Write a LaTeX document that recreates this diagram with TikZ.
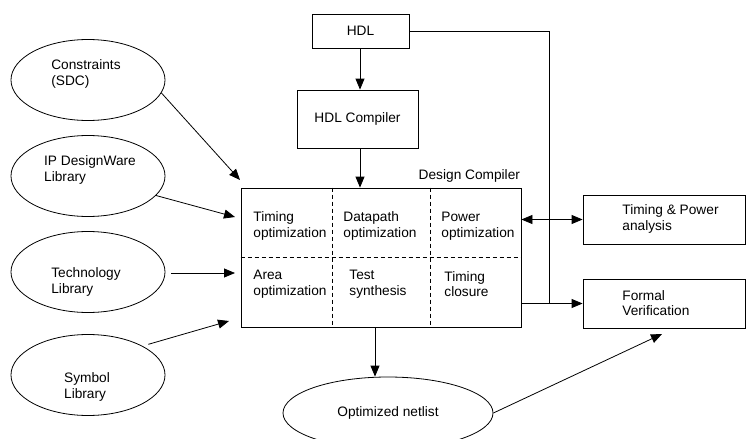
\documentclass[tikz,border=0pt]{standalone}
\usepackage{fontspec}
\setmainfont{Liberation Sans}
\usetikzlibrary{positioning,shapes.geometric,arrows.meta,calc}

\begin{document}
\begin{tikzpicture}[x=1pt, y=-1pt, >={Triangle[length=11pt,width=9pt]}, line width=0.8pt,
    font=\fontsize{13.7}{15.5}\selectfont,
    src/.style={draw, ellipse, minimum width=154pt, minimum height=81pt, inner sep=0pt},
    blk/.style={draw, rectangle, align=left, inner sep=0pt},
    txt/.style={align=left, inner sep=0pt},
    cell/.style={anchor=west, align=left, inner sep=0pt},
    sep/.style={dash pattern=on 4pt off 3pt}]
  \useasboundingbox (0,0) rectangle (753,439);
  %%
  % Node: input libraries
  \node[src] (sdc)  at (88,80)  {};
  \node[src] (ipdw) at (88,176) {};
  \node[src] (tech) at (88,272) {};
  \node[src] (sym)  at (88,375) {};
  \node[txt] (sdctxt)  at ($(sdc)+(-2,-6)$)  {Constraints\\(SDC)};
  \node[txt] (ipdwtxt) at ($(ipdw)+(2,-6)$)  {IP DesignWare\\Library};
  \node[txt] (techtxt) at ($(tech)+(-2,10)$) {Technology\\Library};
  \node[txt] (symtxt)  at ($(sym)+(-1,12)$)  {Symbol\\Library};
  %
  % Node: hdl, hdl compiler
  \node[blk, minimum width=97pt, minimum height=34pt] (hdl) at (360.5,31) {HDL};
  \node[blk, minimum width=121pt, minimum height=58pt] (hdlc) at (357.5,119) {HDL Compiler};
  %
  % Node: design compiler
  \node[blk, minimum width=280pt, minimum height=139pt] (dc) at (381,257.5) {};
  \node[anchor=south east, inner sep=0pt] (dclabel) at ($(dc.north east)+(-1,-5)$) {Design Compiler};
  \coordinate (d1) at (332,0);
  \coordinate (d2) at (430,0);
  \draw[sep] (d1 |- dc.north) -- (d1 |- dc.south);
  \draw[sep] (d2 |- dc.north) -- (d2 |- dc.south);
  \draw[sep] (dc.west) -- (dc.east);
  \node[cell] (timopt)  at (253,226) {Timing\\optimization};
  \node[cell] (dpopt)   at (343,226) {Datapath\\optimization};
  \node[cell] (pwropt)  at (441,226) {Power\\optimization};
  \node[cell] (areaopt) at (253,284) {Area\\optimization};
  \node[cell] (testsyn) at (349,284) {Test\\synthesis};
  \node[cell] (timcls)  at (444,284) {Timing\\closure};
  %
  % Node: analysis, verification
  \node[blk, minimum width=162pt, minimum height=49pt] (tpa) at (664,219.5) {};
  \node[blk, minimum width=162pt, minimum height=49pt] (fv) at (664,303.5) {};
  \node[cell] (tpatxt) at (622,219) {Timing \& Power\\analysis};
  \node[cell] (fvtxt)  at (622,303) {Formal\\Verification};
  %
  % Node: netlist
  \node[draw, ellipse, minimum width=210pt, minimum height=72pt] (nl) at (388,413) {Optimized netlist};
  %
  % Edges
  \coordinate (c1) at (240,180);
  \coordinate (c2) at (235,217);
  \coordinate (c3) at (235,273);
  \coordinate (c4) at (229,321);
  \draw[->] (sdc.-10) -- (c1);
  \draw[->] (ipdw.-16) -- (c2);
  \draw[->, shorten <=6pt] (tech.east |- c3) -- (c3);
  \draw[->, shorten <=6pt] (sym.28) -- (c4);
  \draw[->] (hdl.south -| 360,0) -- (hdlc.north -| 360,0);
  \draw[->] (hdlc.south -| 360,0) -- (dc.north -| 360,0);
  \coordinate (vx) at (549,0);
  \coordinate (ax) at (375,0);
  \draw (hdl.east) -| (vx |- fv.west);
  \draw[<->] (dc.east |- tpa.west) -- (tpa.west);
  \draw[->] (dc.east |- fv.west) -- (fv.west);
  \draw[->] (ax |- dc.south) -- (ax |- nl.north);
  \coordinate (fvin) at (662,334);
  \draw[->] (nl.east) -- (fvin);
\end{tikzpicture}
\end{document}
